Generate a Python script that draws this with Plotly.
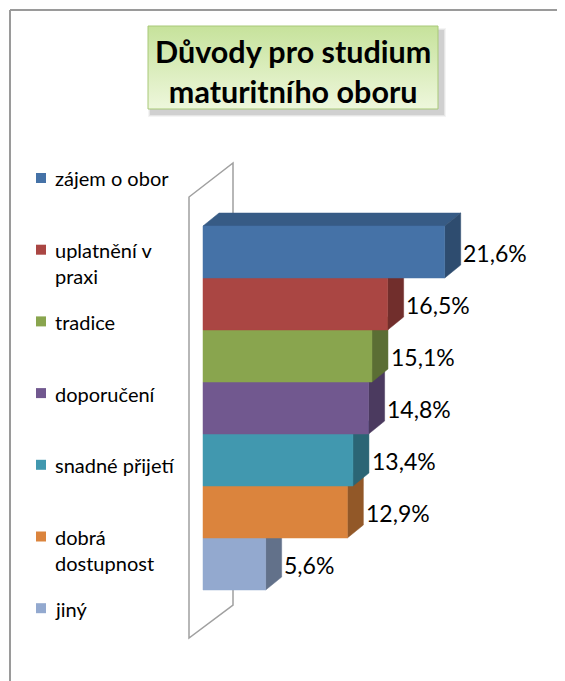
import plotly.graph_objects as go

# data
kategorie = ['zájem o obor', 'uplatnění v<br>praxi', 'tradice', 'doporučení',
             'snadné přijetí', 'dobrá<br>dostupnost', 'jiný']
hodnoty = [21.6, 16.5, 15.1, 14.8, 13.4, 12.9, 5.6]
titulek = 'Důvody pro studium<br>maturitního oboru'

barvy = ['#4572A7', '#AA4643', '#89A54E', '#71588F', '#4198AF', '#DB843D', '#93A9CF']

OFF = 8              # page body margin
W, H = 565 - OFF, 681 - OFF
PX = 11.19           # px per percent
X0 = 203 - OFF       # px of zero
Y0 = 226 - OFF       # px of first bar top
BAR = 52             # px per bar
DX = 16 / PX         # 3d depth in x units
DY = 13 / BAR        # 3d depth in y units


def shade(c, f):
    c = c.lstrip('#')
    r, g, b = [int(c[i:i + 2], 16) for i in (0, 2, 4)]
    return 'rgb({},{},{})'.format(int(r * f), int(g * f), int(b * f))


def poly(xs, ys, color):
    return go.Scatter(x=xs + [xs[0]], y=ys + [ys[0]], mode='lines', fill='toself',
                      fillcolor=color, line=dict(color=color, width=0.5),
                      hoverinfo='skip', showlegend=False)


fig = go.Figure()

# bars, drawn from bottom to top so upper fronts hide lower top faces
n = len(hodnoty)
for i in reversed(range(n)):
    v = hodnoty[i]
    c = barvy[i]
    fig.add_trace(poly([0, v, v + DX, DX], [i, i, i - DY, i - DY], shade(c, 0.8)))
    fig.add_trace(poly([v, v + DX, v + DX, v], [i, i - DY, i + 1 - DY, i + 1], shade(c, 0.67)))
    fig.add_trace(poly([0, v, v, 0], [i, i, i + 1, i + 1], c))

# labels
for i, v in enumerate(hodnoty):
    fig.add_annotation(x=v + DX + 0.05, y=i + 0.52, xref='x', yref='y',
                       text='{:.1f}'.format(v).replace('.', ',') + '%',
                       showarrow=False, xanchor='left', yanchor='middle',
                       font=dict(family='Lato', size=23, color='black'))


# page pixel -> paper
def px(x):
    return (x - OFF) / W


def py(y):
    return 1 - (y - OFF) / H


shapes = []
# outer frame (left and top only, the picture is cropped)
shapes.append(dict(type='line', xref='paper', yref='paper', x0=px(10), y0=py(10), x1=px(570), y1=py(10),
                   line=dict(color='#9a9a9a', width=2)))
shapes.append(dict(type='line', xref='paper', yref='paper', x0=px(10), y0=py(10), x1=px(10), y1=py(690),
                   line=dict(color='#9a9a9a', width=2)))
# side wall of the 3d plot
wall = [(189, 197), (233, 163), (233, 605), (189, 638)]
path = 'M ' + ' L '.join('{},{}'.format(px(a), py(b)) for a, b in wall) + ' Z'
shapes.append(dict(type='path', xref='paper', yref='paper', path=path, layer='below',
                   line=dict(color='#a0a0a0', width=1.5)))

# legend
for i, k in enumerate(kategorie):
    yc = 178 + i * 71.7
    shapes.append(dict(type='rect', xref='paper', yref='paper', x0=px(36), x1=px(46),
                       y0=py(yc - 5), y1=py(yc + 5), fillcolor=barvy[i], line=dict(width=0)))
    fig.add_annotation(x=53 - OFF, y=yc - OFF - 13.6, xref='x2', yref='y2', text=k, showarrow=False,
                       xanchor='left', yanchor='top', align='left',
                       font=dict(family='Lato', size=20, color='black'))

# title box shadow
for k, op in enumerate([0.06, 0.08, 0.12]):
    g = 3 - k
    shapes.append(dict(type='rect', xref='paper', yref='paper', x0=px(151 - g), x1=px(443 + g),
                       y0=py(31 - g), y1=py(114 + g), fillcolor='rgba(60,60,60,{})'.format(op),
                       line=dict(width=0), layer='below'))

# title box with gradient
bx = [148 - OFF, 438 - OFF, 438 - OFF, 148 - OFF, 148 - OFF]
by = [26 - OFF, 26 - OFF, 109 - OFF, 109 - OFF, 26 - OFF]
fig.add_trace(go.Scatter(x=bx, y=by, xaxis='x2', yaxis='y2', mode='lines', fill='toself',
                         fillgradient=dict(type='vertical', start=26 - OFF, stop=109 - OFF,
                                           colorscale=[[0, '#c6e29b'], [1, '#eef7dc']]),
                         line=dict(color='#a8c878', width=1), hoverinfo='skip', showlegend=False))
fig.add_annotation(x=293 - OFF, y=71 - OFF, xref='x2', yref='y2', text='<b>' + titulek + '</b>',
                   showarrow=False, xanchor='center', yanchor='middle', align='center',
                   font=dict(family='Lato', size=30.5, color='black'))

fig.update_layout(
    width=W, height=H,
    margin=dict(l=0, r=0, t=0, b=0),
    paper_bgcolor='white', plot_bgcolor='white',
    showlegend=False, hovermode=False,
    shapes=shapes,
    xaxis=dict(range=[-X0 / PX, (W - X0) / PX], visible=False, fixedrange=True),
    yaxis=dict(range=[(H - Y0) / BAR, -Y0 / BAR], visible=False, fixedrange=True),
    xaxis2=dict(range=[0, W], overlaying='x', anchor='y2', visible=False, fixedrange=True),
    yaxis2=dict(range=[H, 0], overlaying='y', anchor='x2', visible=False, fixedrange=True),
)

fig.write_html('out.html')
